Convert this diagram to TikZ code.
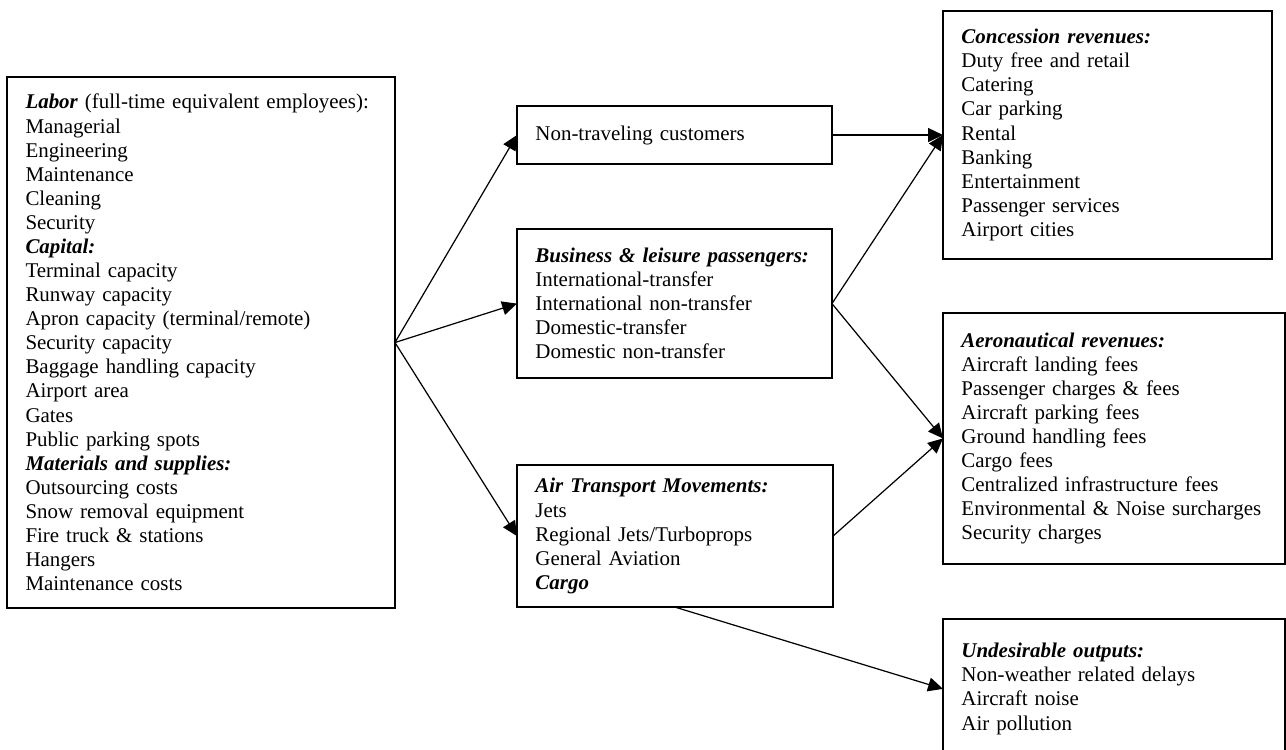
\documentclass[tikz,border=0pt]{standalone}
\usepackage{fontspec}
\setmainfont{Liberation Serif}
\usetikzlibrary{positioning,arrows.meta}

\tikzset{
  box/.style={draw, line width=0.9pt, rectangle, align=left, outer sep=0pt,
    inner xsep=10.6pt, inner ysep=3pt, font=\fontsize{12}{13.8}\selectfont},
  link/.style={line width=0.7pt, -{Triangle[length=8.5pt,width=8pt]}},
}
\newcommand{\hd}[1]{\textbf{\textit{#1}}}

\begin{document}
\begin{tikzpicture}[x=0.573pt, y=-0.573pt]
  \useasboundingbox (0,0) rectangle (1286,750);

  % Define nodes
  \node[box, anchor=north west, text width=201.1pt, minimum height=304.3pt] (inp) at (7,77)
    {\hd{Labor} (full-time equivalent employees):\\
     Managerial\\ Engineering\\ Maintenance\\ Cleaning\\ Security\\
     \hd{Capital:}\\
     Terminal capacity\\ Runway capacity\\ Apron capacity (terminal/remote)\\
     Security capacity\\ Baggage handling capacity\\ Airport area\\ Gates\\
     Public parking spots\\
     \hd{Materials and supplies:}\\
     Outsourcing costs\\ Snow removal equipment\\ Fire truck \& stations\\
     Hangers\\ Maintenance costs};
  \node[box, right=69.9pt of inp, yshift=118.9pt, text width=159.3pt, minimum height=33.2pt] (nontrav)
    {Non-traveling customers};
  \node[box, right=69.9pt of inp, yshift=22.3pt, text width=159.3pt, minimum height=85.4pt] (pax)
    {\hd{Business \& leisure passengers:}\\
     International-transfer\\ International non-transfer\\
     Domestic-transfer\\ Domestic non-transfer};
  \node[box, right=69.9pt of inp, yshift=-110.9pt, text width=159.9pt, minimum height=81.4pt] (atm)
    {\hd{Air Transport Movements:}\\
     Jets\\ Regional Jets/Turboprops\\ General Aviation\\
     \hd{Cargo}};
  \node[box, right=63.6pt of nontrav, text width=167.3pt, minimum height=142.1pt] (conc)
    {\hd{Concession revenues:}\\
     Duty free and retail\\ Catering\\ Car parking\\ Rental\\ Banking\\
     Entertainment\\ Passenger services\\ Airport cities};
  \node[box, below=30.9pt of conc.south west, anchor=north west, text width=174.8pt, minimum height=143.8pt] (aero)
    {\hd{Aeronautical revenues:}\\
     Aircraft landing fees\\ Passenger charges \& fees\\ Aircraft parking fees\\
     Ground handling fees\\ Cargo fees\\ Centralized infrastructure fees\\
     Environmental \& Noise surcharges\\ Security charges};
  \node[box, below=31.5pt of aero.south west, anchor=north west, text width=174.8pt, minimum height=80.2pt] (undes)
    {\hd{Undesirable outputs:}\\
     Non-weather related delays\\ Aircraft noise\\ Air pollution};

  % Connect the nodes
  \draw[link] (inp.east) -- (nontrav.west);
  \draw[link] (inp.east) -- (pax.west);
  \draw[link] (inp.east) -- (atm.west);
  \draw[link] (nontrav.east) -- (conc.west);
  \draw[link] (pax.east) -- (conc.west);
  \draw[link] (pax.east) -- (aero.west);
  \draw[link] (atm.east) -- (aero.west);
  \draw[link] (atm.south) -- (undes.west);

\end{tikzpicture}
\end{document}
